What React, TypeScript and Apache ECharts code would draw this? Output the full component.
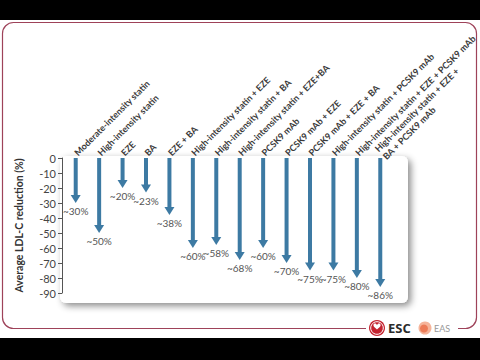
import React, { useEffect, useRef } from "react";
import * as echarts from "echarts";

const categories = [
  "Moderate-intensity statin",
  "High-intensity statin",
  "EZE",
  "BA",
  "EZE + BA",
  "High-intensity statin + EZE",
  "High-intensity statin + BA",
  "High-intensity statin + EZE+BA",
  "PCSK9 mAb",
  "PCSK9 mAb + EZE",
  "PCSK9 mAb + EZE + BA",
  "High-intensity statin + PCSK9 mAb",
  "High-intensity statin + EZE + PCSK9 mAb",
  "High-intensity statin + EZE +\nBA + PCSK9 mAb",
];

const reductions = [-30, -50, -20, -23, -38, -60, -58, -68, -60, -70, -75, -75, -80, -86];

const valueLabels = [
  "~30%", "~50%", "~20%", "~23%", "~38%", "~60%", "~58%",
  "~68%", "~60%", "~70%", "~75%", "~75%", "~80%", "~86%",
];

const yTicks = [0, -10, -20, -30, -40, -50, -60, -70, -80, -90];

const ARROW = "#3d7aa3";
const FONT = "Lato";

const heartPath =
  "M0,3 C-1,-1 -6,-1 -6,3 C-6,6 -2,8 0,10 C2,8 6,6 6,3 C6,-1 1,-1 0,3 Z";

export default function App() {
  const ref = useRef<HTMLDivElement>(null);
  useEffect(() => {
    if (!ref.current) return;
    try {
      echarts.graphic.registerShape("heart", echarts.graphic.extendPath(heartPath, {}));
    } catch (e) {}
    const chart = echarts.init(ref.current, null, { renderer: "svg" });
    chart.setOption({
      animation: false,
      backgroundColor: "#000",
      grid: { left: 64, width: 334.4, top: 158, height: 135, containLabel: false },
      xAxis: {
        type: "category",
        position: "top",
        data: categories,
        axisLine: { show: false },
        axisTick: { show: false },
        axisLabel: {
          rotate: 45,
          interval: 0,
          margin: 4,
          fontFamily: FONT,
          fontSize: 9,
          fontWeight: "bold",
          color: "#3a3a3a",
          lineHeight: 11,
        },
        z: 5,
      },
      yAxis: {
        type: "value",
        min: -90,
        max: 0,
        interval: 10,
        offset: 2,
        name: "Average LDL-C reduction (%)",
        nameLocation: "middle",
        nameGap: 38,
        nameTextStyle: { fontFamily: FONT, fontSize: 10.5, fontWeight: "bold", color: "#333" },
        axisLine: { show: true, lineStyle: { color: "#555", width: 1 } },
        axisTick: { show: true, length: 4, lineStyle: { color: "#555" } },
        splitLine: { show: false },
        axisLabel: {
          fontFamily: FONT,
          fontSize: 11,
          color: "#444",
          margin: 6,
          formatter: (v: number) => (yTicks.includes(v) ? String(v) : ""),
        },
        z: 5,
      },
      series: [
        {
          type: "custom",
          z: 10,
          encode: { x: 0, y: 1 },
          data: reductions.map((v, i) => [i, v]),
          renderItem: (params: any, api: any) => {
            const i = api.value(0);
            const v = api.value(1);
            const p0 = api.coord([i, 0]);
            const p1 = api.coord([i, v]);
            const headH = 8;
            const headW = 10;
            const shaftW = 4;
            return {
              type: "group",
              children: [
                {
                  type: "rect",
                  shape: { x: p0[0] - shaftW / 2, y: p0[1], width: shaftW, height: p1[1] - p0[1] - headH + 1 },
                  style: { fill: ARROW },
                },
                {
                  type: "polygon",
                  shape: {
                    points: [
                      [p1[0] - headW / 2, p1[1] - headH],
                      [p1[0] + headW / 2, p1[1] - headH],
                      [p1[0], p1[1]],
                    ],
                  },
                  style: { fill: ARROW },
                },
                {
                  type: "text",
                  x: p1[0],
                  y: p1[1] + 3,
                  style: {
                    text: valueLabels[params.dataIndex],
                    fontFamily: FONT,
                    fontSize: 10,
                    fill: "#555",
                    align: "center",
                    verticalAlign: "top",
                  },
                },
              ],
            };
          },
        },
      ],
      graphic: [
        { type: "rect", z: -10, shape: { x: 0, y: 20, width: 480, height: 318 }, style: { fill: "#fff" } },
        {
          type: "rect",
          z: -9,
          shape: { x: 2.5, y: 22.5, width: 474, height: 306, r: 11 },
          style: { fill: "none", stroke: "#9e4259", lineWidth: 1.2 },
        },
        {
          type: "rect",
          z: -8,
          shape: { x: 60, y: 156, width: 348, height: 147, r: 6 },
          style: {
            fill: "#fff",
            shadowBlur: 7,
            shadowColor: "rgba(0,0,0,0.45)",
            shadowOffsetX: 3,
            shadowOffsetY: 3,
          },
        },
        { type: "rect", z: -7, shape: { x: 366, y: 322, width: 92, height: 14 }, style: { fill: "#fff" } },
        { type: "circle", z: 20, shape: { cx: 377, cy: 328, r: 8 }, style: { fill: "#c4232f" } },
        { type: "circle", z: 21, shape: { cx: 377, cy: 328, r: 6.3 }, style: { fill: "none", stroke: "#fff", lineWidth: 1 } },
        { type: "heart", z: 22, x: 377, y: 323.5, scaleX: 0.6, scaleY: 0.6, style: { fill: "#fff" } },
        {
          type: "text",
          z: 20,
          x: 388,
          y: 328,
          style: { text: "ESC", fontFamily: "Open Sans", fontWeight: "bold", fontSize: 13, fill: "#2b2b2b", verticalAlign: "middle" },
        },
        { type: "circle", z: 20, shape: { cx: 425, cy: 328, r: 6.5 }, style: { fill: "#f5b49a" } },
        { type: "circle", z: 21, shape: { cx: 424, cy: 328.5, r: 4 }, style: { fill: "#ec7b57" } },
        {
          type: "text",
          z: 20,
          x: 434,
          y: 328,
          style: { text: "EAS", fontFamily: FONT, fontSize: 9, fill: "#999", verticalAlign: "middle" },
        },
      ],
    });
    return () => chart.dispose();
  }, []);
  return <div ref={ref} style={{ position: "fixed", left: 0, top: 0, width: 480, height: 360 }} />;
}
